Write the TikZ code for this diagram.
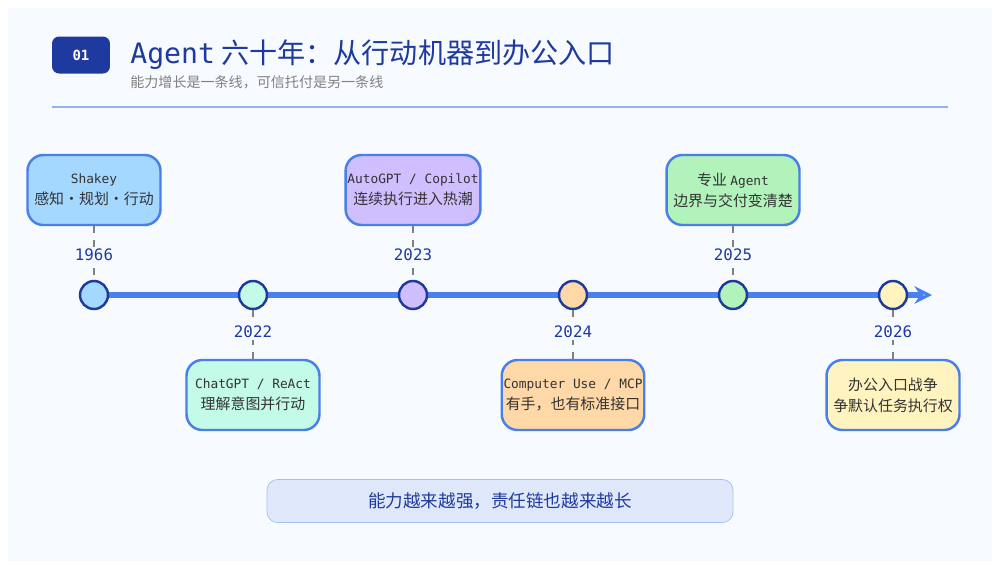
\documentclass[tikz,border=0pt]{standalone}
\usepackage{fontspec}
\setmainfont{Noto Sans CJK SC}
\setmonofont{DejaVu Sans Mono}
\usetikzlibrary{arrows.meta}
\definecolor{navy}{HTML}{1E3A9E}
\definecolor{edge}{HTML}{4A7FE6}
\definecolor{line}{HTML}{4A7FF0}
\definecolor{bg}{HTML}{F7FAFF}
\definecolor{txt}{HTML}{333333}
\newcommand{\en}[1]{{\ttfamily\fontsize{7.3}{12}\selectfont #1}}
\begin{document}
\begin{tikzpicture}[x=0.02cm,y=-0.02cm,
 box/.style={draw=edge,line width=1.4pt,rounded corners=9pt,minimum width=2.66cm,minimum height=1.4cm,inner xsep=1pt,align=center,font=\fontsize{8.5}{12}\selectfont,text=txt},
 dot/.style={circle,draw=navy,line width=1.4pt,minimum size=0.56cm,inner sep=0},
 yr/.style={font=\ttfamily\fontsize{9}{10}\selectfont,text=navy,fill=bg,inner sep=1pt},
 stem/.style={gray,line width=1pt,dash pattern=on 4pt off 4pt}]
\useasboundingbox (0,0) rectangle (1000,569);
\fill[white] (0,0) rectangle (1000,569);
\fill[bg] (8,8) rectangle (992,561);
\node[fill=navy,rounded corners=4pt,minimum width=1.16cm,minimum height=0.74cm,text=white,font=\ttfamily\bfseries\fontsize{8}{9}\selectfont] (badge) at (81,55) {01};
\node[anchor=west,text=navy,font=\fontsize{16}{18}\selectfont,inner sep=0] (title) at (130,55) {{\ttfamily Agent} 六十年：从行动机器到办公入口};
\node[anchor=west,text=gray,font=\fontsize{8}{10}\selectfont,inner sep=0] (sub) at (130,82) {能力增长是一条线，可信托付是另一条线};
\draw[color=edge!60,line width=1pt] (52,107) -- (948,107);
\coordinate (s) at (80,295); \coordinate (e) at (932,295);
\draw[line,line width=3pt,-{Stealth[length=10pt,width=10pt,open]}] (s) -- (e);
\foreach \n/\x/\up/\c/\y/\a/\b in {
 a/94/1/A5D8FF/1966/\en{Shakey}/感知·规划·行动,
 b/253/0/C3FAE8/2022/\en{ChatGPT / ReAct}/理解意图并行动,
 c/413/1/D0BFFF/2023/\en{AutoGPT / Copilot}/连续执行进入热潮,
 d/573/0/FFD8A8/2024/\en{Computer Use / MCP}/有手，也有标准接口,
 e/733/1/B2F2BB/2025/专业 \en{Agent}/边界与交付变清楚,
 f/893/0/FFF3BF/2026/办公入口战争/争默认任务执行权}{
 \definecolor{fc}{HTML}{\c}
 \ifnum\up=1
  \node[box,fill=fc] (\n box) at (\x,190) {\a\\\b};
  \node[dot,fill=fc] (\n dot) at (\x,295) {};
  \draw[stem] (\n box.south) -- (\n dot.north);
  \node[yr] (\n yr) at (\x,255) {\y};
 \else
  \node[box,fill=fc] (\n box) at (\x,395) {\a\\\b};
  \node[dot,fill=fc] (\n dot) at (\x,295) {};
  \draw[stem] (\n dot.south) -- (\n box.north);
  \node[yr] (\n yr) at (\x,332) {\y};
 \fi}
\node[draw=edge!50,fill=edge!18,rounded corners=6pt,minimum width=9.32cm,minimum height=0.86cm,text=navy,font=\fontsize{10}{12}\selectfont] (banner) at (500,501) {能力越来越强，责任链也越来越长};
\end{tikzpicture}
\end{document}
